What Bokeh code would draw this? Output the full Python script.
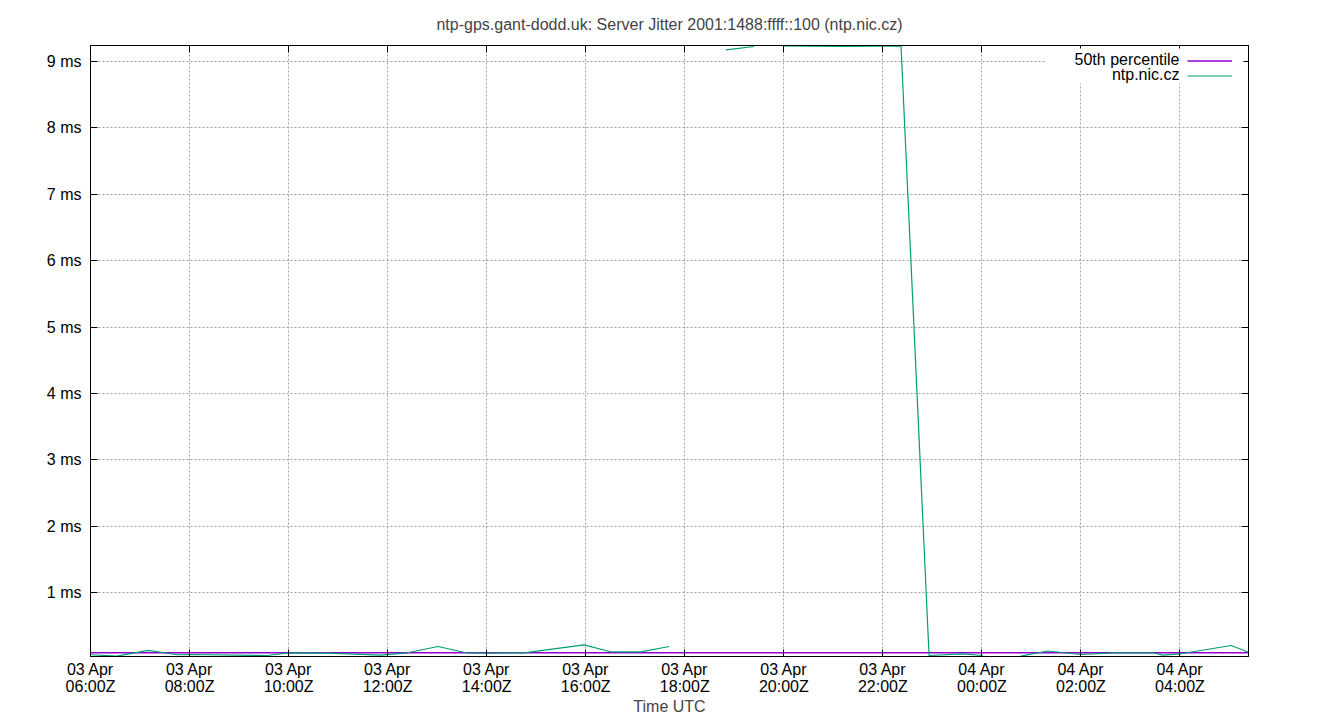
import numpy as np
import pandas as pd
from bokeh.plotting import figure
from bokeh.models import (Range1d, FixedTicker, PrintfTickFormatter, DatetimeTickFormatter,
                          CustomJSTickFormatter, LinearAxis, DatetimeAxis, Legend, LegendItem,
                          Label, BoxAnnotation)
from bokeh.embed import file_html
from bokeh.resources import INLINE

title_text = "ntp-gps.gant-dodd.uk: Server Jitter 2001:1488:ffff::100 (ntp.nic.cz)"
series_names = ["50th percentile", "ntp.nic.cz"]

# jitter of ntp.nic.cz in ms, nan = no sample
nic_times = ["2024-04-03 06:00", "2024-04-03 06:32", "2024-04-03 07:10", "2024-04-03 07:45",
             "2024-04-03 08:01", "2024-04-03 09:34", "2024-04-03 10:00", "2024-04-03 10:47",
             "2024-04-03 11:52", "2024-04-03 12:24", "2024-04-03 13:01", "2024-04-03 13:35",
             "2024-04-03 14:01", "2024-04-03 14:45", "2024-04-03 15:58", "2024-04-03 16:30",
             "2024-04-03 17:07", "2024-04-03 17:41", "2024-04-03 18:15", "2024-04-03 18:50",
             "2024-04-03 19:24", "2024-04-03 19:40", "2024-04-03 20:00", "2024-04-03 20:36",
             "2024-04-03 21:12", "2024-04-03 21:48", "2024-04-03 22:22", "2024-04-03 22:56",
             "2024-04-03 23:37", "2024-04-04 00:01", "2024-04-04 00:25", "2024-04-04 00:47",
             "2024-04-04 01:20", "2024-04-04 02:00", "2024-04-04 02:40", "2024-04-04 03:28",
             "2024-04-04 03:39", "2024-04-04 04:01", "2024-04-04 05:02", "2024-04-04 05:23"]
nic_values = [0.062, 0.041, 0.127, 0.062,
              0.066, 0.051, 0.092, 0.086,
              0.056, 0.092, 0.187, 0.092,
              0.086, 0.092, 0.212, 0.107,
              0.107, 0.187, np.nan, 9.176,
              9.226, np.nan, 9.236, 9.232,
              9.228, 9.233, 9.234, 0.051,
              0.077, 0.051, np.nan, 0.041,
              0.119, 0.066, 0.092, 0.092,
              0.056, 0.077, 0.202, 0.101]

p50_times = ["2024-04-03 06:00", "2024-04-04 05:23"]
p50_values = [0.092, 0.092]

y_ticks = [1, 2, 3, 4, 5, 6, 7, 8, 9]
x_ticks = pd.date_range("2024-04-03 06:00", "2024-04-04 04:00", freq="2h")

FONT = "Liberation Sans"
FSIZE = "16px"
GREEN = "#009e73"
PURPLE = "#9400d3"

t_nic = pd.to_datetime(nic_times)
t_p50 = pd.to_datetime(p50_times)

p = figure(width=1340, height=720, x_axis_type="datetime",
           output_backend="svg", toolbar_location=None,
           x_range=Range1d(t_nic[0], t_nic[-1]), y_range=Range1d(0.036, 9.241),
           min_border_left=90, min_border_right=92, min_border_top=45, min_border_bottom=64)

p.title.text = title_text
p.title.align = "center"
p.title.text_font = FONT
p.title.text_font_size = FSIZE
p.title.text_font_style = "normal"
p.title.standoff = 26

xt = FixedTicker(ticks=[t.value / 1e6 for t in x_ticks])
yt = FixedTicker(ticks=y_ticks)
blank = CustomJSTickFormatter(code="return ''")

# gnuplot style ticks: inward, mirrored on all sides
def style_axis(ax):
  ax.major_tick_in = 7
  ax.major_tick_out = 0
  ax.minor_tick_line_color = None
  ax.major_tick_line_color = "black"
  ax.axis_line_color = "black"
  ax.major_label_text_font = FONT
  ax.major_label_text_font_size = FSIZE
  ax.major_label_text_color = "black"

p.xaxis.ticker = xt
p.xaxis.formatter = DatetimeTickFormatter(hours="%d %b\n%H:%MZ", days="%d %b\n%H:%MZ")
p.xaxis.major_label_standoff = 4
p.xaxis.major_label_text_line_height = 1.0
p.xaxis.axis_label = "Time UTC"
p.xaxis.axis_label_text_font = FONT
p.xaxis.axis_label_text_font_size = FSIZE
p.xaxis.axis_label_text_font_style = "normal"
p.xaxis.axis_label_standoff = 0
p.yaxis.ticker = yt
p.yaxis.formatter = PrintfTickFormatter(format="%d ms")
p.yaxis.major_label_standoff = 9
style_axis(p.xaxis[0])
style_axis(p.yaxis[0])

top_ax = DatetimeAxis(ticker=xt, formatter=blank, major_label_standoff=0)
right_ax = LinearAxis(ticker=yt, formatter=blank, major_label_standoff=0)
style_axis(top_ax)
style_axis(right_ax)
p.add_layout(top_ax, "above")
p.add_layout(right_ax, "right")

p.outline_line_color = "black"
p.outline_line_alpha = 1
p.grid.grid_line_color = "#a0a0a0"
p.grid.grid_line_dash = "2 2"
p.xgrid.ticker = xt
p.ygrid.ticker = yt

r_p50 = p.line(t_p50, p50_values, line_color=PURPLE, line_width=1.6)
r_nic = p.line(t_nic, nic_values, line_color=GREEN, line_width=1.2)

# white key box like gnuplot, text on the left, samples on the right
p.add_layout(BoxAnnotation(left=955, right=1153, top=608, bottom=573,
                           left_units="screen", right_units="screen",
                           top_units="screen", bottom_units="screen",
                           fill_color="white", fill_alpha=1, line_color=None))
for i, name in enumerate(series_names):
  p.add_layout(Label(x=1089, y=597 - 15 * i, x_units="screen", y_units="screen",
                     text=name, text_align="right", text_baseline="middle",
                     text_font=FONT, text_font_size=FSIZE, text_color="black"))

legend = Legend(items=[LegendItem(label=" ", renderers=[r_p50]),
                       LegendItem(label=" ", renderers=[r_nic])],
                location=(1097, 573.5), padding=0, margin=0, spacing=0,
                glyph_width=45, glyph_height=15, label_height=15, label_width=0,
                label_standoff=0, label_text_font_size="1px",
                border_line_color=None, background_fill_alpha=0)
p.add_layout(legend)

open("out.html", "w").write(file_html(p, INLINE))
